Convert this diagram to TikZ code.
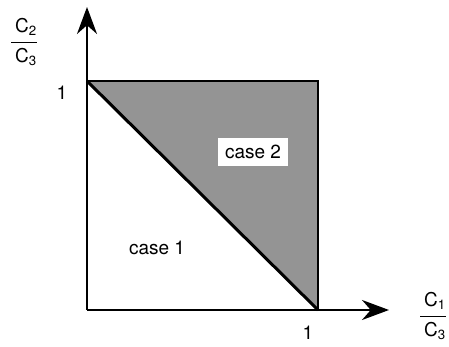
\documentclass[tikz,border=0pt]{standalone}
\usepackage{fontspec}
\setmainfont{TeX Gyre Heros}
\usetikzlibrary{arrows.meta}
\setlength{\arrayrulewidth}{1.6pt}
\newcommand{\ratio}[2]{%
    \begin{tabular}{@{\hspace{4pt}}c@{}}
        C\textsubscript{#1}\\[3pt]\hline
        \rule{0pt}{19pt}C\textsubscript{#2}
    \end{tabular}}
\tikzset{
    >={Stealth[length=27pt,width=20pt]},
    axis/.style={
        ->,
        line width=2.2pt
    },
    txt/.style={
        font=\fontsize{19}{22}\selectfont,
        inner sep=1pt
    }
}

\begin{document}
\begin{tikzpicture}[x=1pt, y=1pt]

    \useasboundingbox (-87,-37) rectangle (362,310);

    % Puntos
    \coordinate (o)  at (0,0);
    \coordinate (ye) at (0,303);
    \coordinate (xe) at (302,0);
    \coordinate (a)  at (0,229);
    \coordinate (b)  at (231,229);
    \coordinate (c)  at (231,0);

    % Zona sombreada
    \fill[black!42] (a) -- (b) -- (c) -- cycle;
    \draw[line width=2pt, line join=miter] (a) -- (b) -- (c);
    \draw[line width=3pt] (a) -- (c);

    % Ejes
    \draw[axis] (o) -- (ye);
    \draw[axis] (o) -- (xe);

    % Etiquetas
    \node[txt] (uy) at (-25,217) {1};
    \node[txt] (ux) at (221,-23) {1};
    \node[txt] (c1) at (70,62) {case 1};
    \node[txt, fill=white, minimum width=70pt, minimum height=28pt]
        (c2) at (166,158) {case 2};
    \node[txt] (ry) at (-63,267) {\ratio{2}{3}};
    \node[txt] (rx) at (346,-7) {\ratio{1}{3}};

\end{tikzpicture}
\end{document}
